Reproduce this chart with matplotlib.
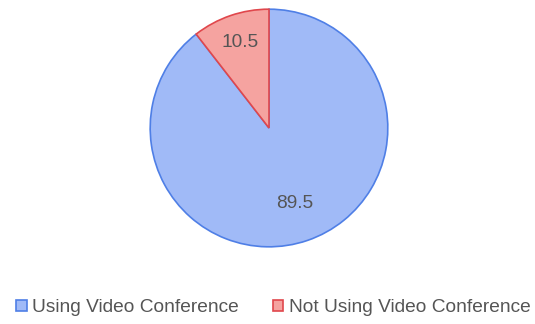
import matplotlib.pyplot as plt

labels = ["Using Video Conference", "Not Using Video Conference"]
values = [89.5, 10.5]
fills = ["#a0baf7", "#f5a3a0"]
edges = ["#4f7fe6", "#e0474c"]
label_dist = [0.67, 0.76]

plt.rcParams['font.family'] = ['Liberation Sans', 'DejaVu Sans']

fig = plt.figure(figsize=(5.35, 3.24), dpi=100)
ax = fig.add_axes([149 / 535, 76 / 324, 240 / 535, 240 / 324])

wedges, texts, autotexts = ax.pie(values, colors=fills, startangle=90, counterclock=False,
                                  autopct=lambda p: "%.1f" % p, pctdistance=0.72,
                                  wedgeprops=dict(linewidth=1.2),
                                  textprops=dict(fontsize=13.8, color="#555555"))
for w, e in zip(wedges, edges):
    w.set_edgecolor(e)
# move each value label to its own distance from the centre
for t, d in zip(autotexts, label_dist):
    x, y = t.get_position()
    t.set_position((x * d / 0.72, y * d / 0.72))
ax.set_xlim(-1.01, 1.01)
ax.set_ylim(-1.01, 1.01)

fig.legend(wedges, labels, loc="center", bbox_to_anchor=(0.511, 16 / 324), ncol=2,
           frameon=False, fontsize=13.8, labelcolor="#555555",
           handlelength=0.55, handleheight=0.55, handletextpad=0.3, columnspacing=1.75,
           borderpad=0.1)

plt.savefig("out.png", dpi=100)
